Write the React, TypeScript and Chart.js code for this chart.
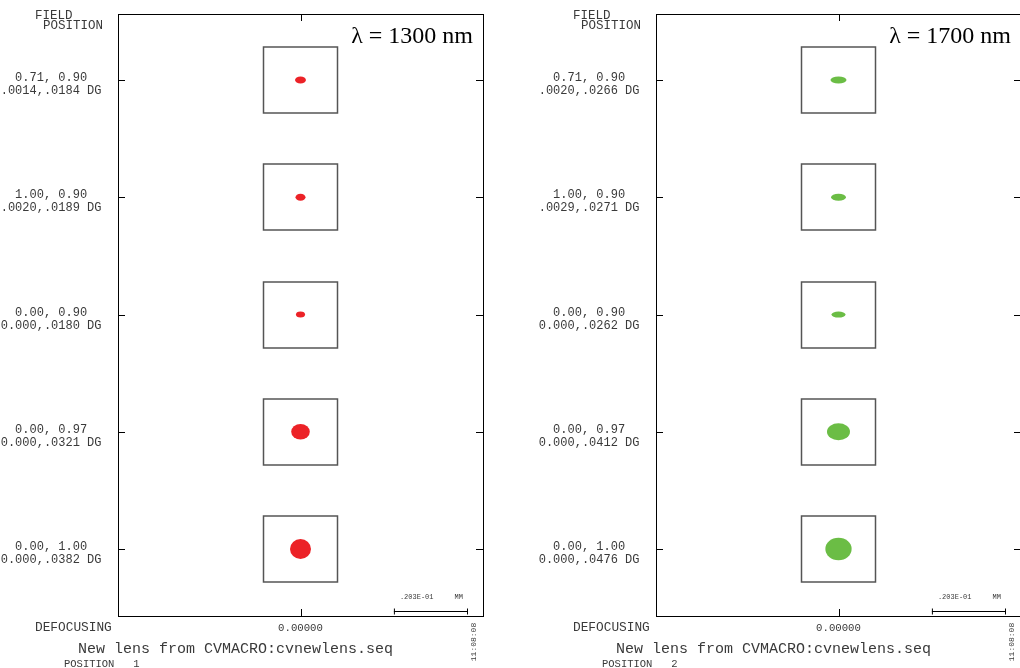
import React, { useEffect, useRef } from "react";
import Chart from "chart.js/auto";

// ---- data ----
const fieldRows = [0, 1, 2, 3, 4];
const fieldLabels = ["0.71, 0.90", "1.00, 0.90", "0.00, 0.90", "0.00, 0.97", "0.00, 1.00"];
const angles1300 = [".0014,.0184 DG", ".0020,.0189 DG", "0.000,.0180 DG", "0.000,.0321 DG", "0.000,.0382 DG"];
const angles1700 = [".0020,.0266 DG", ".0029,.0271 DG", "0.000,.0262 DG", "0.000,.0412 DG", "0.000,.0476 DG"];
// spot extents (micrometres), width x height
const spotW1300 = [3.0, 2.75, 2.5, 5.1, 5.75];
const spotH1300 = [2.15, 2.15, 1.85, 4.8, 6.15];
const spotW1700 = [4.4, 4.1, 3.85, 6.3, 7.2];
const spotH1700 = [2.15, 2.15, 1.85, 5.2, 6.9];
const defocusValues = [0, 0, 0, 0, 0];
const defocusTicks = [0];
const defocusTickLabels = ["0.00000"];
const scaleBarUm = 20.3;
const scaleBarLabel = ".203E-01     MM";
const boxUm = 20.3;
const boxSpanRows = 0.5625;

const MONO = '"Liberation Mono", "DejaVu Sans Mono", monospace';
const TEXT = "#3a3a3a";

type PanelCfg = {
  title: string;
  angles: string[];
  w: number[];
  h: number[];
  color: string;
  position: string;
};

function makePlugin(cfg: PanelCfg) {
  return {
    id: "panelDeco",
    afterDatasetsDraw(chart: any) {
      const { ctx, chartArea: a, scales } = chart;
      const x = scales.x;
      const y = scales.y;
      ctx.save();
      // frame
      ctx.strokeStyle = "#000";
      ctx.lineWidth = 1;
      ctx.strokeRect(a.left + 0.5, a.top + 0.5, a.right - a.left, a.bottom - a.top);
      // inside ticks
      ctx.beginPath();
      fieldRows.forEach((r) => {
        const py = Math.round(y.getPixelForValue(r)) + 0.5;
        ctx.moveTo(a.left, py);
        ctx.lineTo(a.left + 7, py);
        ctx.moveTo(a.right, py);
        ctx.lineTo(a.right - 7, py);
      });
      defocusTicks.forEach((v) => {
        const px = Math.round(x.getPixelForValue(v)) + 0.5;
        ctx.moveTo(px, a.top);
        ctx.lineTo(px, a.top + 7);
        ctx.moveTo(px, a.bottom);
        ctx.lineTo(px, a.bottom - 7);
      });
      ctx.stroke();

      // boxes and spots
      const pxPerUmX = x.getPixelForValue(1) - x.getPixelForValue(0);
      const halfW = (boxUm / 2) * pxPerUmX;
      const halfH = Math.abs(y.getPixelForValue(boxSpanRows / 2) - y.getPixelForValue(0));
      const pxPerUmY = (2 * halfH) / boxUm;
      const meta = chart.getDatasetMeta(0);
      meta.data.forEach((pt: any, i: number) => {
        const cx = pt.x;
        const cy = pt.y;
        ctx.strokeStyle = "#555";
        ctx.lineWidth = 1.5;
        ctx.strokeRect(Math.round(cx - halfW) + 0.5, Math.round(cy - halfH), Math.round(2 * halfW), Math.round(2 * halfH));
        ctx.fillStyle = cfg.color;
        ctx.beginPath();
        ctx.ellipse(cx, cy, (cfg.w[i] / 2) * pxPerUmX, (cfg.h[i] / 2) * pxPerUmY, 0, 0, Math.PI * 2);
        ctx.fill();
      });

      // scale bar
      const barRight = a.right - 15;
      const barLen = scaleBarUm * pxPerUmX;
      const barLeft = barRight - barLen;
      const barY = a.bottom - 4.5;
      ctx.strokeStyle = "#000";
      ctx.lineWidth = 1;
      ctx.beginPath();
      ctx.moveTo(barLeft, barY);
      ctx.lineTo(barRight, barY);
      ctx.moveTo(barLeft + 0.5, barY - 3);
      ctx.lineTo(barLeft + 0.5, barY + 3);
      ctx.moveTo(barRight - 0.5, barY - 3);
      ctx.lineTo(barRight - 0.5, barY + 3);
      ctx.stroke();
      ctx.fillStyle = TEXT;
      ctx.font = `7px ${MONO}`;
      ctx.textAlign = "left";
      ctx.textBaseline = "middle";
      ctx.fillText(scaleBarLabel, barLeft + 6, a.bottom - 19);

      // title lambda
      ctx.fillStyle = "#000";
      ctx.font = `24px "Liberation Serif", "DejaVu Serif", serif`;
      ctx.textAlign = "right";
      ctx.textBaseline = "alphabetic";
      ctx.fillText(cfg.title, a.right - 10, 43);

      // texts
      ctx.fillStyle = TEXT;
      ctx.textAlign = "left";
      ctx.textBaseline = "middle";
      ctx.font = `12.5px ${MONO}`;
      ctx.fillText("FIELD", 35, 15.5);
      ctx.fillText("POSITION", 43, 25.5);
      ctx.font = `12.8px ${MONO}`;
      ctx.fillText("DEFOCUSING", 35, 628);
      ctx.font = `15px ${MONO}`;
      ctx.fillText("New lens from CVMACRO:cvnewlens.seq", 78, 649);
      ctx.font = `10.5px ${MONO}`;
      ctx.fillText(cfg.position, 64, 664);

      // timestamp
      ctx.save();
      ctx.translate(a.right - 9, 642);
      ctx.rotate(-Math.PI / 2);
      ctx.font = `8px ${MONO}`;
      ctx.textAlign = "center";
      ctx.textBaseline = "middle";
      ctx.fillText("11:08:08", 0, 0);
      ctx.restore();

      ctx.restore();
    },
  };
}

function Panel({ cfg, left }: { cfg: PanelCfg; left: number }) {
  const ref = useRef<HTMLCanvasElement | null>(null);
  useEffect(() => {
    if (!ref.current) return;
    const chart = new Chart(ref.current, {
      type: "scatter",
      data: {
        datasets: [
          {
            data: fieldRows.map((r, i) => ({ x: defocusValues[i], y: r })),
            pointRadius: 0,
            pointHoverRadius: 0,
            showLine: false,
          },
        ],
      },
      options: {
        animation: false,
        responsive: false,
        maintainAspectRatio: false,
        events: [],
        layout: { padding: { left: 0, top: 14, right: 55, bottom: 0 } },
        plugins: { legend: { display: false }, tooltip: { enabled: false } },
        scales: {
          x: {
            type: "linear",
            min: -50,
            max: 50,
            grid: { display: false },
            border: { display: false },
            afterBuildTicks: (s: any) => {
              s.ticks = defocusTicks.map((v) => ({ value: v }));
            },
            afterFit: (s: any) => {
              s.height = 52;
              s.paddingLeft = 0;
              s.paddingRight = 0;
            },
            ticks: {
              callback: (_v: any, i: number) => defocusTickLabels[i],
              padding: -2,
              maxRotation: 0,
              autoSkip: false,
              color: TEXT,
              font: { family: MONO, size: 10.7 },
            },
          },
          y: {
            type: "linear",
            reverse: true,
            min: -0.563,
            max: 4.571,
            grid: { display: false },
            border: { display: false },
            afterBuildTicks: (s: any) => {
              s.ticks = fieldRows.map((v) => ({ value: v }));
            },
            afterFit: (s: any) => {
              s.width = 118;
              s.paddingTop = 0;
              s.paddingBottom = 0;
            },
            ticks: {
              callback: (v: any) => [fieldLabels[v], cfg.angles[v]],
              crossAlign: "center",
              padding: 8.5,
              labelOffset: 4.5,
              autoSkip: false,
              color: TEXT,
              font: { family: MONO, size: 12, lineHeight: 13 / 12 },
            },
          },
        },
      },
      plugins: [makePlugin(cfg)],
    } as any);
    return () => chart.destroy();
  }, [cfg]);
  return (
    <canvas
      ref={ref}
      width={538}
      height={668}
      style={{ position: "absolute", left, top: 0, width: 538, height: 668 }}
    />
  );
}

const panel1300: PanelCfg = {
  title: "λ = 1300 nm",
  angles: angles1300,
  w: spotW1300,
  h: spotH1300,
  color: "#ec2227",
  position: "POSITION   1",
};
const panel1700: PanelCfg = {
  title: "λ = 1700 nm",
  angles: angles1700,
  w: spotW1700,
  h: spotH1700,
  color: "#6bbd45",
  position: "POSITION   2",
};

export default function App() {
  return (
    <div
      style={{
        position: "absolute",
        left: 0,
        top: 0,
        width: 1020,
        height: 668,
        overflow: "hidden",
        background: "#fff",
      }}
    >
      <Panel cfg={panel1300} left={0} />
      <Panel cfg={panel1700} left={538} />
    </div>
  );
}
